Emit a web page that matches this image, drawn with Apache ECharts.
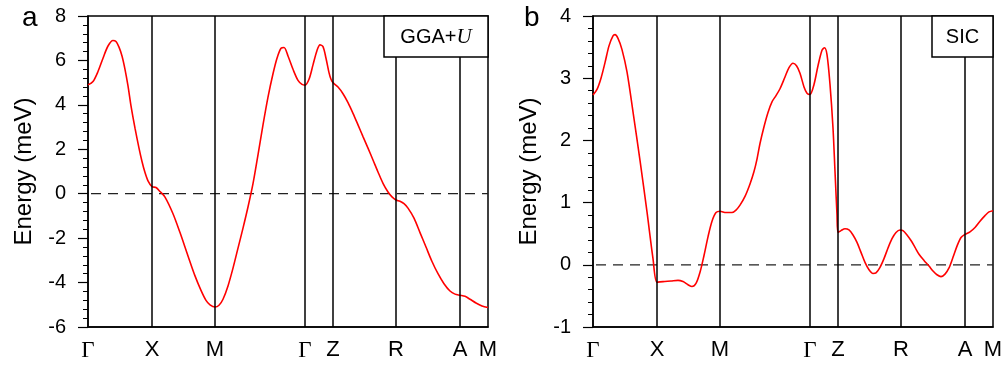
<!DOCTYPE html>
<html>
<head>
<meta charset="utf-8">
<script src="https://cdn.jsdelivr.net/npm/echarts@6/dist/echarts.min.js"></script>
<style>
  html, body { margin: 0; padding: 0; background: #fff; }
  #chart { width: 1006px; height: 369px; }
</style>
</head>
<body>
<div id="chart"></div>
<script>
// high-symmetry points along the k-path (same for both panels)
const kPath = [0, 64, 127, 217, 245, 308, 372, 400];
const kNames = ['Γ', 'X', 'M', 'Γ', 'Z', 'R', 'A', 'M'];

// panel a: GGA+U
const kA = [0, 5, 10, 15, 20, 25, 28, 31, 34, 37, 40, 43, 47, 51, 54, 57, 60, 64,
  68, 72, 77, 85, 92, 100, 107, 113, 118, 122, 127, 131, 135, 140, 145, 150, 155, 160,
  165, 170, 175, 180, 185, 189, 193, 196, 200, 205, 210, 214, 217, 221, 225, 229, 232,
  235, 238, 241, 243, 245, 250, 255, 260, 265, 270, 275, 280, 285, 290, 295, 300, 304,
  308, 312, 316, 320, 326, 332, 338, 344, 350, 356, 362, 367, 372, 377, 382, 388, 394, 400];
const eA = [4.9, 5.05, 5.5, 6.1, 6.65, 6.9, 6.85, 6.6, 6.2, 5.6, 4.85, 3.95, 2.95, 2.05,
  1.45, 0.95, 0.58, 0.32, 0.28, 0.1, -0.15, -0.9, -1.75, -2.8, -3.7, -4.35, -4.8, -5.0,
  -5.1, -5.02, -4.75, -4.15, -3.35, -2.45, -1.55, -0.6, 0.45, 1.75, 3.1, 4.35, 5.4, 6.1,
  6.55, 6.58, 6.2, 5.6, 5.1, 4.92, 4.89, 5.15, 5.8, 6.45, 6.7, 6.62, 6.1, 5.45, 5.15,
  5.0, 4.8, 4.5, 4.1, 3.62, 3.1, 2.57, 2.05, 1.52, 0.98, 0.47, 0.08, -0.14, -0.28, -0.34,
  -0.45, -0.65, -1.1, -1.75, -2.4, -3.05, -3.6, -4.05, -4.38, -4.52, -4.57, -4.62, -4.75,
  -4.92, -5.05, -5.12];

// panel b: SIC
const kB = [0, 4, 8, 12, 16, 20, 22, 25, 29, 34, 40, 47, 54, 60, 64, 70, 78, 85, 90,
  95, 99, 103, 107, 111, 115, 119, 123, 127, 133, 139, 143, 147, 152, 157, 161, 164, 167,
  171, 175, 179, 183, 187, 192, 196, 200, 203.5, 207, 211, 214, 217, 221, 225, 229, 231.5,
  234, 237, 240, 242, 244, 245, 248, 252, 256, 260, 264, 268, 272, 276, 280, 283, 287, 291,
  295, 299, 303, 307, 310, 314, 318, 322, 326, 331, 336, 340, 344, 348, 352, 356, 360, 364,
  368, 372, 377, 382, 387, 392, 396, 400];
const eB = [2.73, 2.82, 3.0, 3.25, 3.52, 3.68, 3.7, 3.64, 3.46, 3.1, 2.46, 1.68, 0.85,
  0.1, -0.28, -0.27, -0.26, -0.25, -0.27, -0.32, -0.35, -0.3, -0.12, 0.15, 0.45, 0.7, 0.84,
  0.86, 0.84, 0.84, 0.88, 0.96, 1.1, 1.3, 1.5, 1.7, 1.95, 2.22, 2.45, 2.62, 2.72, 2.83,
  3.02, 3.17, 3.24, 3.2, 3.08, 2.86, 2.76, 2.74, 2.9, 3.2, 3.45, 3.49, 3.38, 2.9, 2.2, 1.5,
  0.8, 0.52, 0.55, 0.58, 0.56, 0.48, 0.36, 0.2, 0.04, -0.08, -0.14, -0.13, -0.04, 0.1,
  0.27, 0.42, 0.52, 0.56, 0.55, 0.48, 0.39, 0.28, 0.17, 0.07, -0.02, -0.1, -0.16, -0.19,
  -0.15, -0.05, 0.12, 0.3, 0.44, 0.49, 0.53, 0.6, 0.7, 0.79, 0.85, 0.87];

// Fermi level reference
const fermiLevel = 0;

const sans = 'Liberation Sans, Arial, Helvetica, sans-serif';
const serif = 'Liberation Serif, Times New Roman, serif';

function zip(xs, ys) {
  return xs.map((x, i) => [x, ys[i]]);
}

function xAxisFor(gridIndex) {
  return {
    type: 'value',
    gridIndex,
    min: 0,
    max: 400,
    axisLine: { show: true, onZero: false, lineStyle: { color: '#000', width: 1.5 } },
    axisTick: { show: false },
    splitLine: { show: false },
    axisLabel: {
      customValues: kPath,
      margin: 12,
      color: '#000',
      fontFamily: sans,
      fontSize: 22,
      formatter: (v) => {
        const n = kNames[kPath.indexOf(v)];
        return n === 'Γ' ? '{g|Γ}' : n;
      },
      rich: { g: { fontFamily: serif, fontSize: 23, color: '#000' } },
    },
  };
}

function yAxisFor(gridIndex, min, max, interval) {
  return {
    type: 'value',
    gridIndex,
    min,
    max,
    interval,
    name: 'Energy (meV)',
    nameLocation: 'middle',
    nameGap: 52,
    nameTextStyle: { fontFamily: sans, fontSize: 24, color: '#000' },
    axisLine: { show: true, onZero: false, lineStyle: { color: '#000', width: 1.5 } },
    axisTick: { show: true, length: 10, lineStyle: { color: '#000', width: 1.2 } },
    minorTick: { show: true, splitNumber: 5, length: 5, lineStyle: { color: '#000', width: 1 } },
    splitLine: { show: false },
    axisLabel: { margin: 22, color: '#000', fontFamily: sans, fontSize: 20 },
  };
}

function bandSeries(idx, data) {
  return {
    type: 'line',
    xAxisIndex: idx,
    yAxisIndex: idx,
    data,
    smooth: 0.3,
    symbol: 'none',
    lineStyle: { color: '#ff0000', width: 1.6 },
    z: 3,
    markLine: {
      silent: true,
      symbol: 'none',
      label: { show: false },
      lineStyle: { color: '#000', width: 1.5, type: 'solid' },
      data: kPath.slice(1, -1).map((k) => ({ xAxis: k })),
    },
  };
}

// dashed E = 0 line across the whole k-path
function zeroLine(idx) {
  return {
    type: 'line',
    xAxisIndex: idx,
    yAxisIndex: idx,
    data: [[kPath[0], fermiLevel], [kPath[kPath.length - 1], fermiLevel]],
    symbol: 'none',
    silent: true,
    z: 2,
    lineStyle: { color: '#222', width: 1.2, type: [10, 7], dashOffset: -3 },
  };
}

const chart = echarts.init(document.getElementById('chart'), null, { renderer: 'canvas' });

chart.setOption({
  animation: false,
  backgroundColor: '#fff',
  grid: [
    { left: 88, top: 16, width: 400, height: 311, show: true, borderColor: '#000', borderWidth: 1.5 },
    { left: 593, top: 16, width: 400, height: 311, show: true, borderColor: '#000', borderWidth: 1.5 },
  ],
  xAxis: [xAxisFor(0), xAxisFor(1)],
  yAxis: [yAxisFor(0, -6, 8, 2), yAxisFor(1, -1, 4, 1)],
  series: [
    zeroLine(0), zeroLine(1),
    bandSeries(0, zip(kA, eA)), bandSeries(1, zip(kB, eB)),
  ],
  graphic: [
    { type: 'text', left: 22, top: 4, z: 100,
      style: { text: 'a', font: '28px ' + sans, fill: '#000' } },
    { type: 'text', left: 524, top: 4, z: 100,
      style: { text: 'b', font: '28px ' + sans, fill: '#000' } },
    { type: 'rect', z: 100, shape: { x: 384, y: 16, width: 104, height: 41 },
      style: { fill: '#fff', stroke: '#000', lineWidth: 1.5 } },
    { type: 'text', z: 101, x: 436, y: 37,
      style: {
        text: 'GGA+{u|U}', align: 'center', verticalAlign: 'middle',
        font: '20px ' + sans, fill: '#000',
        rich: { u: { fontFamily: serif, fontStyle: 'italic', fontSize: 21, fill: '#000' } },
      } },
    { type: 'rect', z: 100, shape: { x: 932, y: 16, width: 61, height: 41 },
      style: { fill: '#fff', stroke: '#000', lineWidth: 1.5 } },
    { type: 'text', z: 101, x: 962.5, y: 37,
      style: { text: 'SIC', align: 'center', verticalAlign: 'middle', font: '20px ' + sans, fill: '#000' } },
  ],
});
</script>
</body>
</html>
